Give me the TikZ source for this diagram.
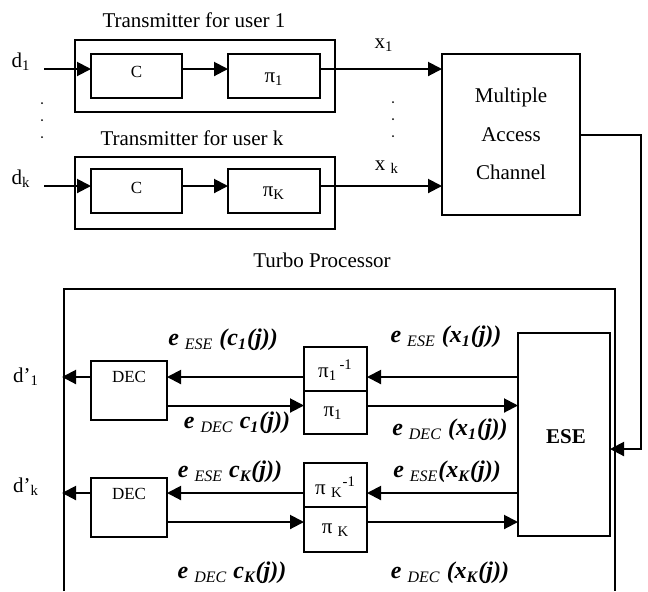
\documentclass[tikz,border=0pt]{standalone}
\usepackage{fontspec}
\setmainfont{Liberation Serif}
\usetikzlibrary{arrows.meta}
\newcommand\eB[1]{\textbf{\textit{#1}}}
\begin{document}
\begin{tikzpicture}[x=0.5pt,y=-0.5pt,
  font=\fontsize{10.5}{12}\selectfont,
  blk/.style={draw, line width=1pt, inner sep=0pt, outer sep=0pt},
  arr/.style={line width=1pt, -{Triangle[length=7pt,width=7pt]}},
  ln/.style={line width=1pt},
  small/.style={font=\fontsize{8.5}{10}\selectfont, inner sep=0pt},
  elab/.style={font=\fontsize{12}{14}\selectfont, inner sep=0pt},
  txt/.style={inner sep=0pt}]
\useasboundingbox (0,0) rectangle (648,591);

% ---------- transmitters ----------
\node[txt] (t1lab) at (194,20) {Transmitter for user 1};
\node[blk, minimum width=130pt, minimum height=36pt] (tx1) at (205,76) {};
\node[blk, minimum width=45.5pt, minimum height=22pt] (c1) at (136.5,76) {};
\node[small] (c1t) at (136.5,72) {C};
\node[blk, minimum width=46pt, minimum height=22pt] (pi1) at (274,76) {};
\node[txt] (pi1t) at (274,79) {π\textsubscript{1}};

\node[txt] (tklab) at (192,138) {Transmitter for user k};
\node[blk, minimum width=130pt, minimum height=36pt] (txk) at (205,193) {};
\node[blk, minimum width=45.5pt, minimum height=22pt] (ck) at (136.5,191) {};
\node[small] (ckt) at (136.5,188) {C};
\node[blk, minimum width=46pt, minimum height=22pt] (pik) at (274,191) {};
\node[txt] (pikt) at (274,193) {π\textsubscript{K}};

\node[txt] (d1lab) at (21,62) {d\textsubscript{1}};
\node[txt] (dklab) at (21,179) {d\textsubscript{k}};
\node[txt] (x1lab) at (384,45) {x\textsubscript{1}};
\node[txt] (xklab) at (387,167) {x \textsubscript{k}};

\foreach \yy [count=\i] in {103,120,137}{
  \fill (42,\yy) circle (0.5pt);
  \fill (393,\yy-1) circle (0.5pt);
}

\coordinate (d1s) at (44,69);
\coordinate (dks) at (44,186);
\draw[arr] (d1s) -- (c1.west |- d1s);
\draw[arr] (c1.east |- d1s) -- (pi1.west |- d1s);
\draw[arr] (dks) -- (ck.west |- dks);
\draw[arr] (ck.east |- dks) -- (pik.west |- dks);

% ---------- multiple access channel ----------
\node[blk, minimum width=69pt, minimum height=80.5pt] (mac) at (511,134.5) {};
\node[txt] (mac1) at (511,97) {Multiple};
\node[txt] (mac2) at (511,135) {Access};
\node[txt] (mac3) at (511,172) {Channel};
\draw[arr] (pi1.east |- d1s) -- (mac.west |- d1s);
\draw[arr] (pik.east |- dks) -- (mac.west |- dks);

% ---------- turbo processor ----------
\node[txt] (tplab) at (322,260) {Turbo Processor};
\coordinate (tpbl) at (64,591);
\coordinate (tptl) at (64,289);
\coordinate (tptr) at (615,289);
\coordinate (tpbr) at (615,591);
\draw[ln] (tpbl) -- (tptl) -- (tptr) -- (tpbr);

\node[blk, minimum width=46pt, minimum height=101.5pt] (ese) at (564,434.5) {};
\node[txt, font=\fontsize{10.5}{12}\selectfont\bfseries] (eset) at (566,437) {ESE};

\coordinate (bendA) at (641,135);
\coordinate (bendB) at (641,449);
\draw[arr] (mac.east |- bendA) -- (bendA) -- (bendB) -- (ese.east |- bendB);

% rows
\coordinate (ra1) at (0,377);
\coordinate (rb1) at (0,405.5);
\coordinate (ra2) at (0,493);
\coordinate (rb2) at (0,522);

% user 1
\node[blk, minimum width=38pt, minimum height=29.5pt] (dec1) at (129,390.5) {};
\node[small] (dec1t) at (129,377) {DEC};
\node[blk, minimum width=31.5pt, minimum height=22pt] (pinv1) at (335.5,369) {};
\node[txt] (pinv1t) at (335.5,370) {π\textsubscript{1}\textsuperscript{\,-1}};
\node[blk, minimum width=31.5pt, minimum height=21.5pt] (pib1) at (335.5,412.5) {};
\node[txt] (pib1t) at (333,413) {π\textsubscript{1}};
\coordinate (dout1) at (62,377);
\draw[arr] (ese.west |- ra1) -- (pinv1.east |- ra1);
\draw[arr] (pinv1.west |- ra1) -- (dec1.east |- ra1);
\draw[arr] (dec1.west |- ra1) -- (dout1);
\draw[arr] (dec1.east |- rb1) -- (pib1.west |- rb1);
\draw[arr] (pib1.east |- rb1) -- (ese.west |- rb1);
\node[txt] (dp1) at (26,377) {d’\textsubscript{1}};

% user K
\node[blk, minimum width=38pt, minimum height=29.5pt] (dec2) at (129,507.5) {};
\node[small] (dec2t) at (129,494) {DEC};
\node[blk, minimum width=31.5pt, minimum height=22pt] (pinvk) at (335.5,485) {};
\node[txt] (pinvkt) at (335.5,487) {π \textsubscript{K}\textsuperscript{-1}};
\node[blk, minimum width=31.5pt, minimum height=22.5pt] (pikb) at (335.5,529.5) {};
\node[txt] (pikbt) at (335.5,530) {π \textsubscript{K}};
\coordinate (dout2) at (62,493);
\draw[arr] (ese.west |- ra2) -- (pinvk.east |- ra2);
\draw[arr] (pinvk.west |- ra2) -- (dec2.east |- ra2);
\draw[arr] (dec2.west |- ra2) -- (dout2);
\draw[arr] (dec2.east |- rb2) -- (pikb.west |- rb2);
\draw[arr] (pikb.east |- rb2) -- (ese.west |- rb2);
\node[txt] (dpk) at (26,487) {d’\textsubscript{k}};

% extrinsic labels
\node[elab] (l1) at (223,340) {\eB{e} \textsubscript{\textit{ESE}} \eB{(c\textsubscript{1}(j))}};
\node[elab] (l2) at (237,423) {\eB{e} \textsubscript{\textit{DEC}} \eB{c\textsubscript{1}(j))}};
\node[elab] (l3) at (446,337) {\eB{e} \textsubscript{\textit{ESE}} \eB{(x\textsubscript{1}(j))}};
\node[elab] (l4) at (450,430) {\eB{e} \textsubscript{\textit{DEC}} \eB{(x\textsubscript{1}(j))}};
\node[elab] (l5) at (230,472) {\eB{e} \textsubscript{\textit{ESE}} \eB{c\textsubscript{K}(j))}};
\node[elab] (l6) at (232,573) {\eB{e} \textsubscript{\textit{DEC}} \eB{c\textsubscript{K}(j))}};
\node[elab] (l7) at (447,472) {\eB{e} \textsubscript{\textit{ESE}}\eB{(x\textsubscript{K}(j))}};
\node[elab] (l8) at (450,573) {\eB{e} \textsubscript{\textit{DEC}} \eB{(x\textsubscript{K}(j))}};
\end{tikzpicture}
\end{document}
